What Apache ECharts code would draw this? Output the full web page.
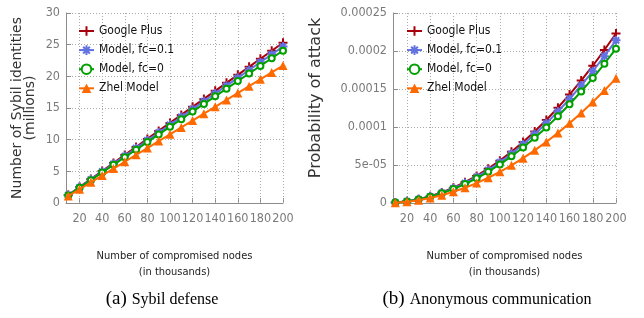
<!DOCTYPE html>
<html>
<head>
<meta charset="utf-8">
<script src="https://cdn.jsdelivr.net/npm/echarts@6/dist/echarts.min.js"></script>
<style>
html,body{margin:0;padding:0;background:#fff;}
#chart{width:644px;height:318px;}
</style>
</head>
<body>
<div id="chart"></div>
<script>
// ---- data ----
const xValues = [10,20,30,40,50,60,70,80,90,100,110,120,130,140,150,160,170,180,190,200];
const xTickValues = [20,40,60,80,100,120,140,160,180,200];
const seriesNames = ['Google Plus','Model, fc=0.1','Model, fc=0','Zhel Model'];

// (a) Sybil defense: Sybil identities (millions)
const sybilGoogle  = [1.27,2.53,3.79,5.06,6.32,7.59,8.85,10.12,11.38,12.65,13.91,15.18,16.44,17.71,18.97,20.24,21.50,22.77,24.03,25.30];
const sybilModel01 = [1.24,2.47,3.71,4.94,6.18,7.41,8.65,9.88,11.12,12.35,13.59,14.82,16.06,17.29,18.53,19.76,21.00,22.23,23.47,24.70];
const sybilModel0  = [1.20,2.41,3.61,4.81,6.02,7.22,8.42,9.62,10.83,12.03,13.23,14.44,15.64,16.84,18.05,19.25,20.45,21.65,22.86,24.05];
const sybilZhel    = [1.09,2.17,3.26,4.34,5.43,6.51,7.60,8.68,9.77,10.85,11.94,13.02,14.11,15.19,16.28,17.36,18.45,19.53,20.62,21.70];
const sybilYTickLabels = ['0','5','10','15','20','25','30'];

// (b) Anonymous communication: probability of attack
const attackGoogle  = [0.00000056,0.00000223,0.00000502,0.00000892,0.00001394,0.00002007,0.00002732,0.00003568,0.00004516,0.00005575,0.00006746,0.00008028,0.00009422,0.00010927,0.00012544,0.00014272,0.00016112,0.00018063,0.00020126,0.00022300];
const attackModel01 = [0.00000054,0.00000214,0.00000482,0.00000856,0.00001338,0.00001926,0.00002622,0.00003424,0.00004334,0.00005350,0.00006474,0.00007704,0.00009042,0.00010486,0.00012038,0.00013696,0.00015462,0.00017334,0.00019314,0.00021400];
const attackModel0  = [0.00000051,0.00000203,0.00000457,0.00000812,0.00001269,0.00001827,0.00002487,0.00003248,0.00004111,0.00005075,0.00006141,0.00007308,0.00008577,0.00009947,0.00011419,0.00012992,0.00014667,0.00016443,0.00018321,0.00020300];
const attackZhel    = [0.00000041,0.00000164,0.00000369,0.00000656,0.00001025,0.00001476,0.00002009,0.00002624,0.00003321,0.00004100,0.00004961,0.00005904,0.00006929,0.00008036,0.00009225,0.00010496,0.00011849,0.00013284,0.00014801,0.00016400];
const attackYTickLabels = ['0','5e-05','0.0001','0.00015','0.0002','0.00025'];

// ---- styles ----
const COND = '"DejaVu Sans Condensed","Liberation Sans Narrow","DejaVu Sans",sans-serif';
const colors = ['#a8000a','#6272e0','#00a000','#ff6a00'];
const symbols = [
  'path://M0,-5L0,5M-5,0L5,0',
  'path://M0,-5L0,5M-5,0L5,0M-3.5,-3.5L3.5,3.5M-3.5,3.5L3.5,-3.5',
  'emptyCircle',
  'triangle'
];
const symbolSizes = [9,9,6,9];

function pairs(arr){ return xValues.map((x,i)=>[x, arr[i]]); }

function makeSeries(idx, datasets){
  const out = [];
  out.push({
    type:'line', name:'_grid'+idx, xAxisIndex:idx, yAxisIndex:idx, data:[], silent:true,
    markLine:{ z:1, silent:true, symbol:'none', label:{show:false},
      lineStyle:{type:[1,2], color:'#aaaaaa', width:1},
      emphasis:{disabled:true},
      data: xTickValues.map(v=>({xAxis:v})) }
  });
  datasets.forEach((d,k)=>{
    out.push({
      type:'line', name:seriesNames[k], xAxisIndex:idx, yAxisIndex:idx,
      data:pairs(d), symbol:symbols[k], symbolSize:symbolSizes[k],
      z: 3+k,
      lineStyle:{color:colors[k], width:2},
      itemStyle:{color:colors[k], borderColor:colors[k], borderWidth: k===3 ? 0 : 2},
      emphasis:{disabled:true}, animation:false
    });
  });
  return out;
}

const axisCommonX = (idx)=>({
  type:'value', gridIndex:idx, min:8, max:200,
  axisLine:{show:true, lineStyle:{color:'#8c8c8c', width:1}},
  axisTick:{show:true, inside:true, length:5, customValues:xTickValues, lineStyle:{color:'#8c8c8c'}},
  axisLabel:{customValues:xTickValues, color:'#7a7a7a', fontFamily:COND, fontSize:12.5, margin:9},
  splitLine:{show:false},
  name:'Number of compromised nodes\n(in thousands)', nameLocation:'middle', nameGap:45,
  nameTextStyle:{color:'#222', fontFamily:COND, fontSize:11, lineHeight:16}
});

const chart = echarts.init(document.getElementById('chart'), null, {renderer:'canvas'});
const legendCommon = { data:seriesNames, orient:'vertical', top:20, itemWidth:15, itemHeight:12, itemGap:7.1,
  padding:5, textStyle:{color:'#111', fontFamily:COND, fontSize:12}, selectedMode:false };
const captionRich = {
  p:{fontFamily:'"Liberation Serif",serif', fontSize:19, fontWeight:'normal', color:'#000'},
  t:{fontFamily:'"Liberation Serif",serif', fontSize:16, fontWeight:'normal', color:'#000'}
};
const option = {
  animation:false,
  backgroundColor:'#ffffff',
  grid:[
    {left:66, top:13, width:217, height:190, containLabel:false},
    {left:393, top:13, width:223, height:190, containLabel:false}
  ],
  xAxis:[axisCommonX(0), axisCommonX(1)],
  yAxis:[
    { type:'value', gridIndex:0, min:0, max:30, interval:5,
      axisLine:{show:true, lineStyle:{color:'#8c8c8c'}},
      axisTick:{show:true, inside:true, length:5, lineStyle:{color:'#8c8c8c'}},
      axisLabel:{color:'#7a7a7a', fontFamily:COND, fontSize:12.5, margin:6,
        formatter:(v,i)=>sybilYTickLabels[i]},
      splitLine:{show:true, lineStyle:{type:[1,2], color:'#aaaaaa'}},
      name:'Number of Sybil identities\n(millions)', nameLocation:'middle', nameGap:29, nameRotate:90,
      nameTextStyle:{color:'#333', fontFamily:'"DejaVu Sans",sans-serif', fontSize:14, lineHeight:13}
    },
    { type:'value', gridIndex:1, min:0, max:0.00025, interval:0.00005,
      axisLine:{show:true, lineStyle:{color:'#8c8c8c'}},
      axisTick:{show:true, inside:true, length:5, lineStyle:{color:'#8c8c8c'}},
      axisLabel:{color:'#7a7a7a', fontFamily:COND, fontSize:12.5, margin:6,
        formatter:(v,i)=>attackYTickLabels[i]},
      splitLine:{show:true, lineStyle:{type:[1,2], color:'#aaaaaa'}},
      name:'Probability of attack', nameLocation:'middle', nameGap:69, nameRotate:90,
      nameTextStyle:{color:'#333', fontFamily:'"DejaVu Sans",sans-serif', fontSize:16, padding:[0,0,0,20]}
    }
  ],
  legend:[
    Object.assign({left:73}, legendCommon),
    Object.assign({left:401}, legendCommon)
  ],
  title:[
    { text:'{p|(a)} {t|Sybil defense}', left:157, top:285, textAlign:'center',
      textStyle:{fontWeight:'normal', rich:captionRich}},
    { text:'{p|(b)} {t|Anonymous communication}', left:482, top:285, textAlign:'center',
      textStyle:{fontWeight:'normal', rich:captionRich}}
  ],
  series:[
    ...makeSeries(0,[sybilGoogle,sybilModel01,sybilModel0,sybilZhel]),
    ...makeSeries(1,[attackGoogle,attackModel01,attackModel0,attackZhel])
  ]
};
chart.setOption(option);
</script>
</body>
</html>
